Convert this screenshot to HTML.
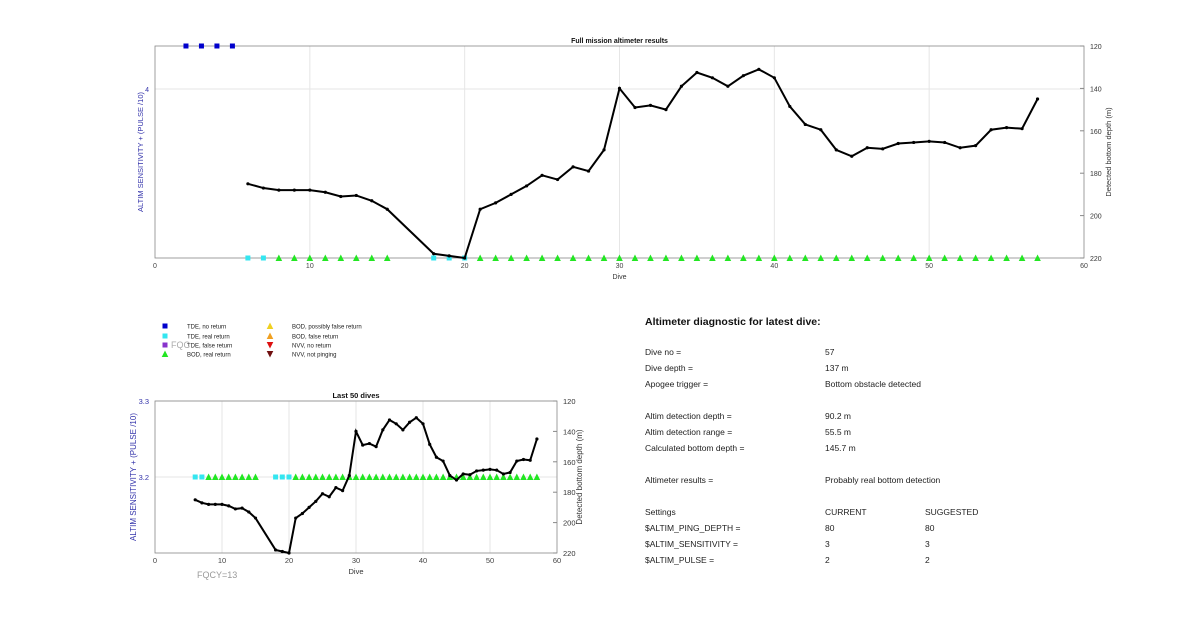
<!DOCTYPE html>
<html><head><meta charset="utf-8"><style>
body{margin:0;background:#fff;font-family:"Liberation Sans",sans-serif}
svg text{font-family:"Liberation Sans",sans-serif}
</style></head><body>
<svg id="s" width="1200" height="622" xmlns="http://www.w3.org/2000/svg"></svg>
<script>
const dives=[6,7,8,9,10,11,12,13,14,15,18,19,20,21,22,23,24,25,26,27,28,29,30,31,32,33,34,35,36,37,38,39,40,41,42,43,44,45,46,47,48,49,50,51,52,53,54,55,56,57];
const depths=[185,187,188,188,188,189,191,190.5,193,197,218,219,220,197,194,190,186,181,183,177,179,169,140,149,148,150,139,132.5,135,139,134,131,135,148.5,157,159.5,169,172,168,168.5,166,165.5,165,165.5,168,167,159.5,158.5,159,145];
const tdeNoReturnDives=[2,3,4,5];
const tdeRealDives=[6,7,18,19,20];
const bodRealDives=[8,9,10,11,12,13,14,15,21,22,23,24,25,26,27,28,29,30,31,32,33,34,35,36,37,38,39,40,41,42,43,44,45,46,47,48,49,50,51,52,53,54,55,56,57];
const xTicks=[0,10,20,30,40,50,60];
const depthTicks=[120,140,160,180,200,220];
const NS="http://www.w3.org/2000/svg";
const svg=document.getElementById('s');
function mk(tag,attrs,parent,txt){const e=document.createElementNS(NS,tag);for(const k in attrs)e.setAttribute(k,attrs[k]);if(txt!==undefined)e.textContent=txt;(parent||svg).appendChild(e);return e;}
function chart(name,L,R,T,B,title,leftTicks,leftMin,leftMax,markY,fs,showNoReturn,lTitleX,rTitleX){
  const g=mk('g',{});
  
  
  const x=d=>L+(d-0)/60*(R-L);
  const yd=v=>T+(v-120)/100*(B-T);
  const yl=v=>B-(v-leftMin)/(leftMax-leftMin)*(B-T);
  xTicks.slice(1,-1).forEach(t=>{const l=mk('line',{x1:x(t),x2:x(t),y1:T,y2:B,stroke:'#e6e6e6','stroke-width':1},g);});
  leftTicks.forEach(t=>{const l=mk('line',{x1:L,x2:R,y1:yl(t),y2:yl(t),stroke:'#e6e6e6','stroke-width':1},g);});
  const box=mk('rect',{x:L,y:T,width:R-L,height:B-T,fill:'none',stroke:'#888','stroke-width':0.8},g);
  
  xTicks.forEach(t=>{const e=mk('text',{x:x(t),y:B+10,'font-size':fs,fill:'#444','text-anchor':'middle'},g,t);});
  leftTicks.forEach(t=>{const e=mk('text',{x:L-6,y:yl(t)+3,'font-size':fs,fill:'#3333aa','text-anchor':'end'},g,t);});
  depthTicks.forEach(t=>{const e=mk('text',{x:R+6,y:yd(t)+3,'font-size':fs,fill:'#333'},g,t);
    const tk=mk('line',{x1:R-4,x2:R,y1:yd(t),y2:yd(t),stroke:'#888'},g);});
  let e=mk('text',{x:(L+R)/2,y:T-3,'font-size':fs,'font-weight':'bold','text-anchor':'middle',fill:'#111'},g,title);
  e=mk('text',{x:(L+R)/2,y:B+21,'font-size':fs,'text-anchor':'middle',fill:'#333'},g,'Dive');
  e=mk('text',{transform:`translate(${lTitleX},${(T+B)/2}) rotate(-90)`,'font-size':fs+0.5,'text-anchor':'middle',fill:'#3333aa'},g,'ALTIM SENSITIVITY + (PULSE /10)');
  e=mk('text',{transform:`translate(${rTitleX},${(T+B)/2}) rotate(-90)`,'font-size':fs+0.5,'text-anchor':'middle',fill:'#333'},g,'Detected bottom depth (m)');
  const s=5;
  if(showNoReturn)tdeNoReturnDives.forEach(d=>{const m=mk('rect',{x:x(d)-2.5,y:T-2.5,width:s,height:s,fill:'#0000cc'},g);});
  tdeRealDives.forEach(d=>{const m=mk('rect',{x:x(d)-2.5,y:markY-2.5,width:s,height:s,fill:'#33e6f0'},g);});
  bodRealDives.forEach(d=>{const cx=x(d),cy=markY;const m=mk('polygon',{points:`${cx-3.3},${cy+3} ${cx+3.3},${cy+3} ${cx},${cy-3.5}`,fill:'#22e622'},g);});
  let pts='';dives.forEach((d,i)=>{pts+=x(d)+','+yd(depths[i])+' ';});
  const pl=mk('polyline',{points:pts,fill:'none',stroke:'#000','stroke-width':2},g);
  dives.forEach((d,i)=>{const p=mk('circle',{cx:x(d),cy:yd(depths[i]),r:1.6,fill:'#000'},g);});
}
chart('full-mission-chart',155,1084,46,258,'Full mission altimeter results',[4],3,4.2547,258,7,true,143,1111);
chart('last-50-dives-chart',155,557,401,553,'Last 50 dives',[3.3,3.2],3.1,3.3,477,7.5,false,136,582);
const leg=mk('g',{});
const items=[[165,326,'sq','#0000cc','TDE, no return'],[165,336,'sq','#33e6f0','TDE, real return'],[165,345,'sq','#8833cc','TDE, false return'],[165,354,'up','#22e622','BOD, real return'],
[270,326,'up','#f0d020','BOD, possibly false return'],[270,336,'up','#f0a020','BOD, false return'],[270,345,'dn','#dd1010','NVV, no return'],[270,354,'dn','#701010','NVV, not pinging']];
items.forEach(it=>{const [x,y,t,c,l]=it;let m;
 if(t==='sq')m=mk('rect',{x:x-2.5,y:y-2.5,width:5,height:5,fill:c},leg);
 else if(t==='up')m=mk('polygon',{points:`${x-3.3},${y+3} ${x+3.3},${y+3} ${x},${y-3.5}`,fill:c},leg);
 else m=mk('polygon',{points:`${x-3.3},${y-3} ${x+3.3},${y-3} ${x},${y+3.5}`,fill:c},leg);
 
 const e=mk('text',{x:x+22,y:y+2.5,'font-size':6,fill:'#222'},leg,l);});
let f=mk('text',{x:171,y:348,'font-size':9,fill:'#aaa'},null,'FQC');
f=mk('text',{x:197,y:578,'font-size':9,fill:'#999'},null,'FQCY=13');
const dp=mk('g',{});
let t=mk('text',{x:645,y:325,'font-size':10.5,'font-weight':'bold',fill:'#111'},dp,'Altimeter diagnostic for latest dive:');
const rows=[[355,'Dive no =','57',''],[371,'Dive depth =','137 m',''],[387,'Apogee trigger =','Bottom obstacle detected',''],[419,'Altim detection depth =','90.2 m',''],[435,'Altim detection range =','55.5 m',''],[451,'Calculated bottom depth =','145.7 m',''],[483,'Altimeter results =','Probably real bottom detection',''],[515,'Settings','CURRENT','SUGGESTED'],[531,'$ALTIM_PING_DEPTH =','80','80'],[547,'$ALTIM_SENSITIVITY =','3','3'],[563,'$ALTIM_PULSE =','2','2']];
rows.forEach(r=>{[[645,r[1]],[825,r[2]],[925,r[3]]].forEach(c=>{if(!c[1])return;const e=mk('text',{x:c[0],y:r[0],'font-size':8.5,fill:'#222'},dp,c[1]);});});
</script>
</body></html>
